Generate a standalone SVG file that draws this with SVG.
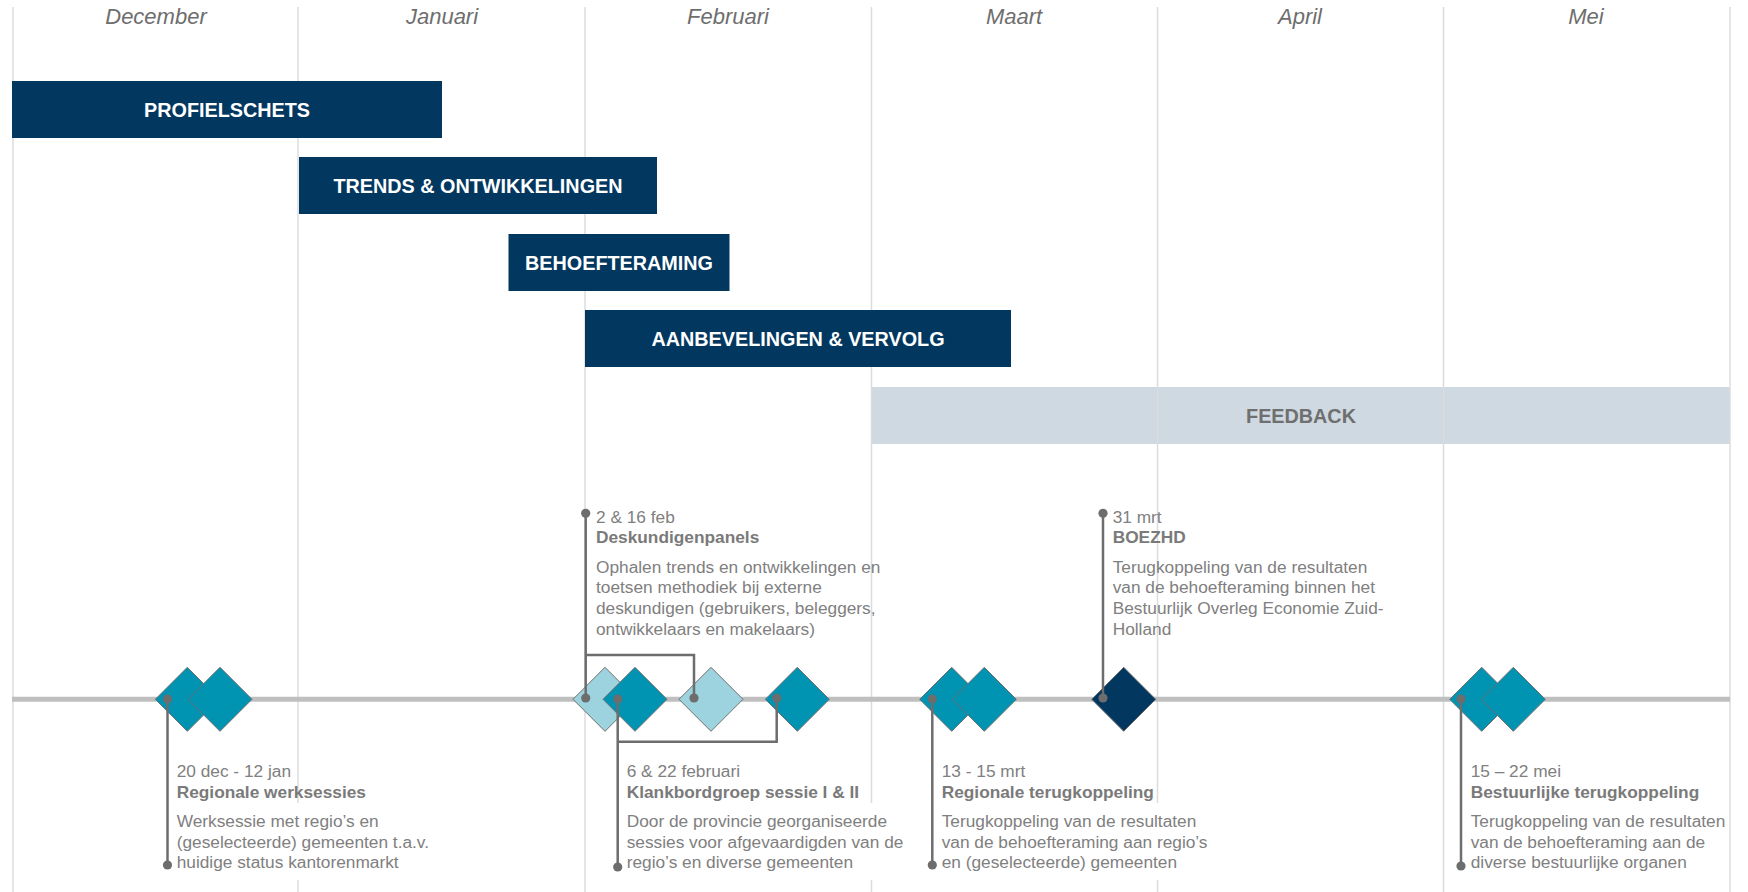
<svg xmlns="http://www.w3.org/2000/svg" width="1748" height="892" viewBox="0 0 1748 892">
<style>
.month{font-family:"Liberation Sans",Arial,sans-serif;font-size:22px;font-style:italic;fill:#6e6e6e;text-anchor:middle}
.grid{stroke:#dcdcdc;stroke-width:1.5}
.bar{fill:#02375f}
.bartxt{font-family:"Liberation Sans",Arial,sans-serif;font-size:19.8px;font-weight:bold;fill:#ffffff;text-anchor:middle}
.fbtxt{font-family:"Liberation Sans",Arial,sans-serif;font-size:19.8px;font-weight:bold;fill:#6f6f6f;text-anchor:middle}
.t{font-family:"Liberation Sans",Arial,sans-serif;font-size:17.3px;fill:#808080}
.b{font-weight:bold;fill:#7a7a7a}
.teal{fill:#0093b2;stroke:#6f6f6f;stroke-width:1}
.light{fill:#9dd3de;stroke:#6f6f6f;stroke-width:1}
.navy{fill:#02375f;stroke:#6f6f6f;stroke-width:1}
.conn{fill:none;stroke:#6d6d6d;stroke-width:2.5}
.dot{fill:#6d6d6d}
.wb{fill:#ffffff}
</style>
<rect width="1748" height="892" fill="#ffffff"/>
<g id="feedback">
<rect x="872" y="387" width="858" height="57" fill="#9fb3c6" fill-opacity="0.5"/>
<text class="fbtxt" x="1301" y="422.5">FEEDBACK</text>
</g>
<g id="grid">
<line class="grid" x1="13" y1="7" x2="13" y2="892"/>
<line class="grid" x1="298" y1="7" x2="298" y2="892"/>
<line class="grid" x1="585" y1="7" x2="585" y2="892"/>
<line class="grid" x1="871.5" y1="7" x2="871.5" y2="892"/>
<line class="grid" x1="1157.5" y1="7" x2="1157.5" y2="892"/>
<line class="grid" x1="1443.5" y1="7" x2="1443.5" y2="892"/>
<line class="grid" x1="1730" y1="7" x2="1730" y2="892"/>
</g>
<g id="months">
<text class="month" x="156" y="24">December</text>
<text class="month" x="442" y="24">Januari</text>
<text class="month" x="728" y="24">Februari</text>
<text class="month" x="1014" y="24">Maart</text>
<text class="month" x="1300" y="24">April</text>
<text class="month" x="1586" y="24">Mei</text>
</g>
<g id="profielschets">
<rect class="bar" x="12" y="81" width="430" height="57"/>
<text class="bartxt" x="227" y="117">PROFIELSCHETS</text>
</g>
<g id="trends">
<rect class="bar" x="299" y="157" width="358" height="57"/>
<text class="bartxt" x="478" y="193">TRENDS &amp; ONTWIKKELINGEN</text>
</g>
<g id="behoefteraming">
<rect class="bar" x="508.5" y="234" width="221" height="57"/>
<text class="bartxt" x="619" y="270">BEHOEFTERAMING</text>
</g>
<g id="aanbevelingen">
<rect class="bar" x="585" y="310" width="426" height="57"/>
<text class="bartxt" x="798" y="346">AANBEVELINGEN &amp; VERVOLG</text>
</g>
<g id="timeline">
<line x1="12" y1="699.3" x2="1730" y2="699.3" stroke="#bfbfbf" stroke-width="5"/>
</g>
<g id="diamonds">
<polygon class="teal" points="187.3,667.3 219.3,699.3 187.3,731.3 155.3,699.3"/>
<polygon class="teal" points="220,667.3 252,699.3 220,731.3 188,699.3"/>
<polygon class="light" points="605,667.3 637,699.3 605,731.3 573,699.3"/>
<polygon class="teal" points="635,667.3 667,699.3 635,731.3 603,699.3"/>
<polygon class="light" points="711,667.3 743,699.3 711,731.3 679,699.3"/>
<polygon class="teal" points="797.3,667.3 829.3,699.3 797.3,731.3 765.3,699.3"/>
<polygon class="teal" points="951.7,667.3 983.7,699.3 951.7,731.3 919.7,699.3"/>
<polygon class="teal" points="984.3,667.3 1016.3,699.3 984.3,731.3 952.3,699.3"/>
<polygon class="navy" points="1123.7,667.3 1155.7,699.3 1123.7,731.3 1091.7,699.3"/>
<polygon class="teal" points="1481.7,667.3 1513.7,699.3 1481.7,731.3 1449.7,699.3"/>
<polygon class="teal" points="1513.3,667.3 1545.3,699.3 1513.3,731.3 1481.3,699.3"/>
</g>
<g id="connectors">
<path class="conn" d="M167.5,699 V865"/>
<path class="conn" d="M585.7,513.3 V698 M585.7,655 H694 V698"/>
<path class="conn" d="M617.7,699 V867 M617.7,741.7 H776.7 V698"/>
<path class="conn" d="M932.3,699 V865"/>
<path class="conn" d="M1103,698 V513.3"/>
<path class="conn" d="M1461,699 V866"/>
<circle class="dot" cx="167.5" cy="699" r="4.6"/>
<circle class="dot" cx="167.5" cy="865" r="4.6"/>
<circle class="dot" cx="585.7" cy="513.3" r="4.6"/>
<circle class="dot" cx="585.7" cy="698" r="4.6"/>
<circle class="dot" cx="694" cy="698" r="4.6"/>
<circle class="dot" cx="617.7" cy="699" r="4.6"/>
<circle class="dot" cx="617.7" cy="867" r="4.6"/>
<circle class="dot" cx="776.7" cy="698" r="4.6"/>
<circle class="dot" cx="932.3" cy="699" r="4.6"/>
<circle class="dot" cx="932.3" cy="865" r="4.6"/>
<circle class="dot" cx="1103" cy="698" r="4.6"/>
<circle class="dot" cx="1103" cy="513.3" r="4.6"/>
<circle class="dot" cx="1461" cy="699" r="4.6"/>
<circle class="dot" cx="1461" cy="866" r="4.6"/>
</g>
<g id="ev-werksessies">
<rect class="wb" x="173" y="803" width="264" height="77"/>
<text class="t" x="176.7" y="777">20 dec - 12 jan</text>
<text class="t b" x="176.7" y="797.5">Regionale werksessies</text>
<text class="t" x="176.7" y="827">Werksessie met regio’s en</text>
<text class="t" x="176.7" y="847.5">(geselecteerde) gemeenten t.a.v.</text>
<text class="t" x="176.7" y="868">huidige status kantorenmarkt</text>
</g>
<g id="ev-deskundigen">
<text class="t" x="596" y="522.7">2 &amp; 16 feb</text>
<text class="t b" x="596" y="543.3">Deskundigenpanels</text>
<text class="t" x="596" y="572.7">Ophalen trends en ontwikkelingen en</text>
<text class="t" x="596" y="593.3">toetsen methodiek bij externe</text>
<text class="t" x="596" y="614">deskundigen (gebruikers, beleggers,</text>
<text class="t" x="596" y="634.7">ontwikkelaars en makelaars)</text>
</g>
<g id="ev-klankbord">
<rect class="wb" x="623" y="803" width="287" height="77"/>
<text class="t" x="626.7" y="777">6 &amp; 22 februari</text>
<text class="t b" x="626.7" y="797.5">Klankbordgroep sessie I &amp; II</text>
<text class="t" x="626.7" y="827">Door de provincie georganiseerde</text>
<text class="t" x="626.7" y="847.5">sessies voor afgevaardigden van de</text>
<text class="t" x="626.7" y="868">regio’s en diverse gemeenten</text>
</g>
<g id="ev-regionaal">
<rect class="wb" x="938" y="803" width="275" height="77"/>
<text class="t" x="941.7" y="777">13 - 15 mrt</text>
<text class="t b" x="941.7" y="797.5">Regionale terugkoppeling</text>
<text class="t" x="941.7" y="827">Terugkoppeling van de resultaten</text>
<text class="t" x="941.7" y="847.5">van de behoefteraming aan regio’s</text>
<text class="t" x="941.7" y="868">en (geselecteerde) gemeenten</text>
</g>
<g id="ev-boezhd">
<text class="t" x="1112.7" y="522.7">31 mrt</text>
<text class="t b" x="1112.7" y="543.3">BOEZHD</text>
<text class="t" x="1112.7" y="572.7">Terugkoppeling van de resultaten</text>
<text class="t" x="1112.7" y="593.3">van de behoefteraming binnen het</text>
<text class="t" x="1112.7" y="614">Bestuurlijk Overleg Economie Zuid-</text>
<text class="t" x="1112.7" y="634.7">Holland</text>
</g>
<g id="ev-bestuurlijk">
<text class="t" x="1470.7" y="777">15 – 22 mei</text>
<text class="t b" x="1470.7" y="797.5">Bestuurlijke terugkoppeling</text>
<text class="t" x="1470.7" y="827">Terugkoppeling van de resultaten</text>
<text class="t" x="1470.7" y="847.5">van de behoefteraming aan de</text>
<text class="t" x="1470.7" y="868">diverse bestuurlijke organen</text>
</g>
</svg>
